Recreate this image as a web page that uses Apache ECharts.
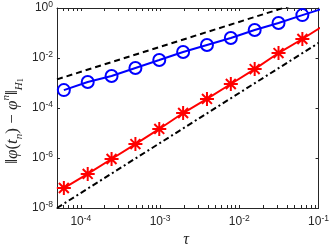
<!DOCTYPE html>
<html>
<head>
<meta charset="utf-8">
<script src="https://cdn.jsdelivr.net/npm/echarts@6/dist/echarts.min.js"></script>
<style>html,body{margin:0;padding:0;background:#fff;}#c{width:332px;height:251px;}</style>
</head>
<body>
<div id="c"></div>
<script>
// Step sizes tau = 2^-14 ... 2^-3 (last one lies beyond the x range and is clipped)
var tau = [6.1035e-5, 1.2207e-4, 2.4414e-4, 4.8828e-4, 9.7656e-4, 1.9531e-3,
           3.9063e-3, 7.8125e-3, 1.5625e-2, 3.125e-2, 6.25e-2, 0.125];
// blue circles (first order)
var errBlue = [5.2e-4, 1.1e-3, 1.9e-3, 4.0e-3, 8.3e-3, 1.74e-2,
               3.3e-2, 6.3e-2, 0.132, 0.25, 0.52, 1.05];
// red asterisks (second order)
var errRed = [6.3e-8, 2.3e-7, 9.1e-7, 3.6e-6, 1.45e-5, 6.3e-5,
              2.3e-4, 9.1e-4, 3.6e-3, 1.58e-2, 5.75e-2, 0.23];
// reference slopes
var refTau = [5e-5, 0.1];
var refOrder1 = [1.4e-3, 2.8];
var refOrder2 = [1e-8, 4e-2];

var xLabelVals = [1e-4, 1e-3, 1e-2, 1e-1];
var yLabelVals = [1e-8, 1e-6, 1e-4, 1e-2, 1];
var xMin = 5e-5, xMax = 0.1, yMin = 1e-8, yMax = 1;

var xTickVals = [];
[-5, -4, -3, -2].forEach(function (e) {
  for (var k = 1; k <= 9; k++) {
    var v = k * Math.pow(10, e);
    if (v >= xMin * 1.0001 && v <= xMax * 1.0001) xTickVals.push(v);
  }
});
xTickVals.push(0.1);

function pair(xs, ys) { return xs.map(function (x, i) { return [x, ys[i]]; }); }

var txt = '#262626';
var labRich = {
  b: { fontSize: 12, fontFamily: 'Liberation Sans', color: txt, lineHeight: 16 },
  sup: { fontSize: 8.5, fontFamily: 'Liberation Sans', color: txt, verticalAlign: 'top', lineHeight: 9 }
};
function fmt(v) { return '{b|10}{sup|' + Math.round(Math.log10(v)) + '}'; }

var axisLine = { show: true, lineStyle: { color: txt, width: 1 } };
var star = 'path://M0,-10L0,10M-10,0L10,0M-7.07,-7.07L7.07,7.07M-7.07,7.07L7.07,-7.07';

var chart = echarts.init(document.getElementById('c'), null, { renderer: 'canvas' });
chart.setOption({
  animation: false,
  backgroundColor: '#fff',
  grid: { left: 57, right: 12, top: 8, bottom: 43, containLabel: false },
  xAxis: [{
    type: 'log', min: xMin, max: xMax, position: 'bottom',
    axisLine: axisLine, splitLine: { show: false },
    axisTick: { show: true, inside: true, length: 3, customValues: xTickVals, lineStyle: { color: txt } },
    axisLabel: { customValues: xLabelVals, formatter: fmt, rich: labRich, margin: 6 }
  }, {
    type: 'log', min: xMin, max: xMax, position: 'top',
    axisLine: axisLine, splitLine: { show: false },
    axisTick: { show: true, inside: true, length: 3, customValues: xTickVals, lineStyle: { color: txt } },
    axisLabel: { show: false }
  }],
  yAxis: [{
    type: 'log', min: yMin, max: yMax, position: 'left',
    axisLine: axisLine, splitLine: { show: false },
    axisTick: { show: true, inside: true, length: 3, customValues: yLabelVals, lineStyle: { color: txt } },
    axisLabel: { customValues: yLabelVals, formatter: fmt, rich: labRich, margin: 4 }
  }, {
    type: 'log', min: yMin, max: yMax, position: 'right',
    axisLine: axisLine, splitLine: { show: false },
    axisTick: { show: true, inside: true, length: 3, customValues: yLabelVals, lineStyle: { color: txt } },
    axisLabel: { show: false }
  }],
  series: [{
    type: 'line', data: pair(refTau, refOrder1), clip: true, symbol: 'none',
    lineStyle: { color: '#000', width: 2, type: [6, 4] }, z: 2
  }, {
    type: 'line', data: pair(refTau, refOrder2), clip: true, symbol: 'none',
    lineStyle: { color: '#000', width: 2, type: [6, 3, 2, 3] }, z: 2
  }, {
    type: 'line', data: pair(tau, errBlue), clip: true,
    symbol: 'circle', symbolSize: 12, showAllSymbol: true,
    lineStyle: { color: '#0000ff', width: 2 },
    itemStyle: { color: 'rgba(0,0,0,0)', borderColor: '#0000ff', borderWidth: 2 }, z: 3
  }, {
    type: 'line', data: pair(tau, errRed), clip: true,
    symbol: star, symbolSize: 14, showAllSymbol: true,
    lineStyle: { color: '#ff0000', width: 2 },
    itemStyle: { color: '#ff0000', borderColor: '#ff0000', borderWidth: 2 }, z: 3
  }],
  graphic: [{
    type: 'text', x: 186, y: 240,
    style: { text: 'τ', font: 'italic 16px "Liberation Serif"', fill: txt, align: 'center', verticalAlign: 'middle' }
  }, {
    type: 'text', x: 13, y: 121, rotation: Math.PI / 2,
    style: {
      text: '{m|‖}{i|φ}{m|(}{i|t}{s|n}{m|) − }{i|φ}{p|n}{m|‖}{s|H}{q|1}',
      align: 'center', verticalAlign: 'middle',
      rich: {
        m: { font: '17px "Liberation Serif"', fill: txt, lineHeight: 24 },
        i: { font: 'italic 17px "Liberation Serif"', fill: txt, lineHeight: 24 },
        s: { font: 'italic 11px "Liberation Serif"', fill: txt, lineHeight: 11, verticalAlign: 'bottom' },
        p: { font: 'italic 11px "Liberation Serif"', fill: txt, lineHeight: 11, verticalAlign: 'top' },
        q: { font: '8px "Liberation Serif"', fill: txt, lineHeight: 20, verticalAlign: 'bottom' }
      }
    }
  }]
});
</script>
</body>
</html>
